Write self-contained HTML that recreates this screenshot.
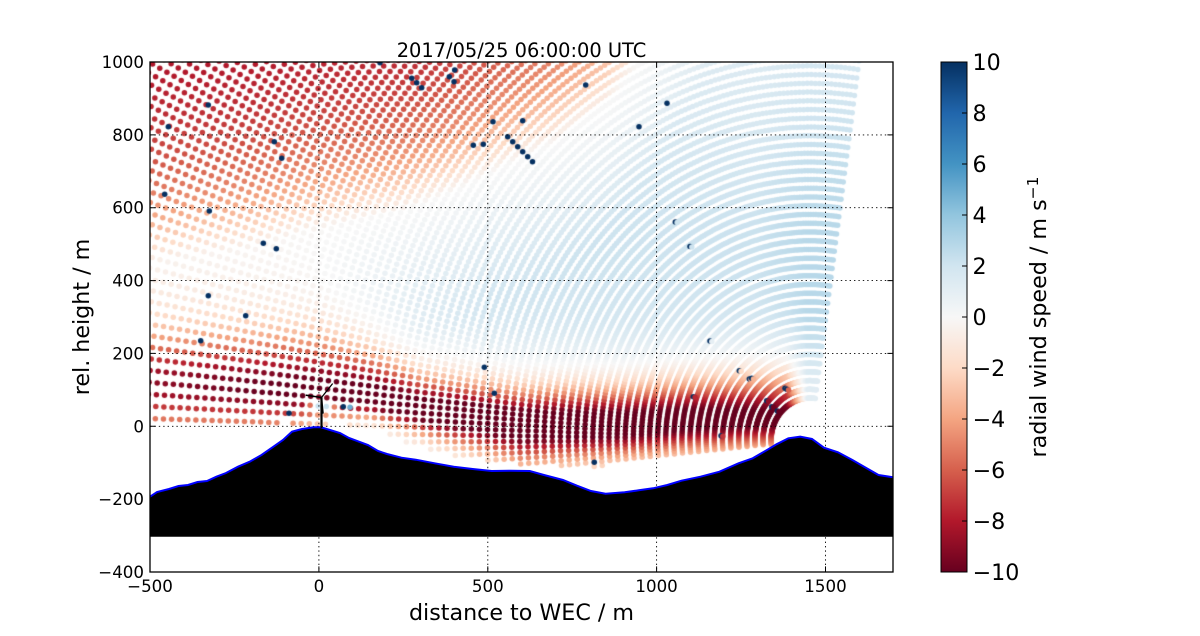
<!DOCTYPE html>
<html><head><meta charset="utf-8">
<style>
html,body{margin:0;padding:0;background:#fff;}
#wrap{position:relative;width:1200px;height:636px;overflow:hidden;background:#fff;}
canvas,svg{position:absolute;left:0;top:0;}
text{font-family:"DejaVu Sans","Liberation Sans",sans-serif;fill:#000;}
</style></head><body>
<div id="wrap">
<canvas id="c" width="1200" height="636"></canvas>
<svg width="1200" height="636" viewBox="0 0 1200 636" xmlns="http://www.w3.org/2000/svg">
<defs>
<linearGradient id="rdbu" x1="0" y1="1" x2="0" y2="0">
<stop offset="0" stop-color="#67001f"/><stop offset="0.1" stop-color="#b2182b"/><stop offset="0.2" stop-color="#d6604d"/><stop offset="0.3" stop-color="#f4a582"/><stop offset="0.4" stop-color="#fddbc7"/><stop offset="0.5" stop-color="#f7f7f7"/><stop offset="0.6" stop-color="#d1e5f0"/><stop offset="0.7" stop-color="#92c5de"/><stop offset="0.8" stop-color="#4393c3"/><stop offset="0.9" stop-color="#2166ac"/><stop offset="1" stop-color="#053061"/>
</linearGradient>
</defs>
<g stroke="#000" stroke-width="0.9" stroke-dasharray="1.4 3" fill="none">
<line x1="150" y1="134.9" x2="893" y2="134.9"/>
<line x1="150" y1="207.7" x2="893" y2="207.7"/>
<line x1="150" y1="280.6" x2="893" y2="280.6"/>
<line x1="150" y1="353.4" x2="893" y2="353.4"/>
<line x1="150" y1="426.3" x2="893" y2="426.3"/>
<line x1="150" y1="499.1" x2="893" y2="499.1"/>
<line x1="318.9" y1="62" x2="318.9" y2="572"/>
<line x1="487.8" y1="62" x2="487.8" y2="572"/>
<line x1="656.6" y1="62" x2="656.6" y2="572"/>
<line x1="825.5" y1="62" x2="825.5" y2="572"/>
</g>
<polygon fill="#000" points="150,496.7 157,492 169,489 178.5,486 188,485 197.5,482 207,481 216.4,476.7 226,473 238,466.7 249.7,461.7 261.5,455 273.4,446.7 283,440 292,431.7 302,429 313.7,427.3 321,427.3 330,430 340,433 349,438 359,441.7 368,445 378,451 387,454 401.5,457.7 415.8,459.7 434.8,463.3 453.7,466.7 472.7,469 491.7,471 510.7,470.7 529.7,471 544,475 563,480 577,485.7 591,491 605.6,493.7 624.6,492.3 638.8,490.3 653,488.3 667.3,485 681.5,480.7 700.5,476.7 719.5,471.7 738.5,463.3 752.7,458.3 767,450 776.5,444.3 788.3,438.3 800.2,436.7 812,439 824,447.7 838,452.3 852.4,460 866.7,468.3 878.5,475 893,477.3 893,536.7 150,536.7"/>
<polyline fill="none" stroke="#0000ff" stroke-width="2" points="150,496.7 157,492 169,489 178.5,486 188,485 197.5,482 207,481 216.4,476.7 226,473 238,466.7 249.7,461.7 261.5,455 273.4,446.7 283,440 292,431.7 302,429 313.7,427.3 321,427.3 330,430 340,433 349,438 359,441.7 368,445 378,451 387,454 401.5,457.7 415.8,459.7 434.8,463.3 453.7,466.7 472.7,469 491.7,471 510.7,470.7 529.7,471 544,475 563,480 577,485.7 591,491 605.6,493.7 624.6,492.3 638.8,490.3 653,488.3 667.3,485 681.5,480.7 700.5,476.7 719.5,471.7 738.5,463.3 752.7,458.3 767,450 776.5,444.3 788.3,438.3 800.2,436.7 812,439 824,447.7 838,452.3 852.4,460 866.7,468.3 878.5,475 893,477.3"/>
<g stroke="#000" fill="none" stroke-linecap="round">
<line x1="321.5" y1="427" x2="321.5" y2="397.5" stroke-width="2.2"/>
<line x1="321.5" y1="397.5" x2="332.3" y2="384" stroke-width="1.3"/>
<line x1="321.5" y1="397.5" x2="306.3" y2="395.2" stroke-width="1.5"/>
<line x1="321.5" y1="397.5" x2="323" y2="413" stroke-width="1.5"/>
</g>
<rect x="150" y="62" width="743" height="510" fill="none" stroke="#000" stroke-width="1.3"/>
<g stroke="#000" stroke-width="1">
<path d="M150 134.9h5.6M150 207.7h5.6M150 280.6h5.6M150 353.4h5.6M150 426.3h5.6M150 499.1h5.6M150 62h5.6M150 572h5.6"/>
<path d="M893 134.9h-5.6M893 207.7h-5.6M893 280.6h-5.6M893 353.4h-5.6M893 426.3h-5.6M893 499.1h-5.6M893 62h-5.6M893 572h-5.6"/>
<path d="M150 572v-5.6M318.9 572v-5.6M487.8 572v-5.6M656.6 572v-5.6M825.5 572v-5.6"/>
<path d="M150 62v5.6M318.9 62v5.6M487.8 62v5.6M656.6 62v5.6M825.5 62v5.6"/>
</g>
<g font-size="16.67" text-anchor="end">
<text x="144" y="68">1000</text>
<text x="144" y="140.9">800</text>
<text x="144" y="213.7">600</text>
<text x="144" y="286.6">400</text>
<text x="144" y="359.4">200</text>
<text x="144" y="432.3">0</text>
<text x="144" y="505.1">−200</text>
<text x="144" y="578">−400</text>
</g>
<g font-size="16.67" text-anchor="middle">
<text x="150" y="592">−500</text>
<text x="318.9" y="592">0</text>
<text x="487.8" y="592">500</text>
<text x="656.6" y="592">1000</text>
<text x="825.5" y="592">1500</text>
</g>
<text x="521.5" y="57" font-size="19.4" text-anchor="middle">2017/05/25 06:00:00 UTC</text>
<text x="521.5" y="620" font-size="22.2" text-anchor="middle">distance to WEC / m</text>
<text x="89" y="317" font-size="22.2" text-anchor="middle" transform="rotate(-90 89 317)">rel. height / m</text>
<rect x="941" y="62" width="26" height="510" fill="url(#rdbu)" stroke="#000" stroke-width="1"/>
<g stroke="#000" stroke-width="1">
<path d="M967 113h-5M967 164h-5M967 215h-5M967 266h-5M967 317h-5M967 368h-5M967 419h-5M967 470h-5M967 521h-5"/>
</g>
<g font-size="22.2">
<text x="972.5" y="70.1">10</text>
<text x="972.5" y="121.1">8</text>
<text x="972.5" y="172.1">6</text>
<text x="972.5" y="223.1">4</text>
<text x="972.5" y="274.1">2</text>
<text x="972.5" y="325.1">0</text>
<text x="972.5" y="376.1">−2</text>
<text x="972.5" y="427.1">−4</text>
<text x="972.5" y="478.1">−6</text>
<text x="972.5" y="529.1">−8</text>
<text x="972.5" y="580.1">−10</text>
</g>
<text x="1046" y="317" font-size="22.2" text-anchor="middle" transform="rotate(-90 1046 317)">radial wind speed / m s<tspan dy="-8" font-size="15.5">−1</tspan></text>
</svg>
</div>
<script>
(function(){
var cv=document.getElementById('c');
var ctx=cv.getContext('2d');
var SX=743/2200, SY=510/1400;
function px(x){return 150+(x+500)*SX;}
function py(y){return 572-(y+400)*SY;}
function ix(X){return (X-150)/SX-500;}
function iy(Y){return (572-Y)/SY-400;}
function clamp(v,a,b){return v<a?a:(v>b?b:v);}
function sm(t){t=clamp(t,0,1);return t*t*(3-2*t);}
function interp(tab,x){
  var n=tab.length;
  if(x<=tab[0][0]) return tab[0];
  if(x>=tab[n-1][0]) return tab[n-1];
  for(var i=0;i<n-1;i++){
    var a=tab[i],b=tab[i+1];
    if(x<=b[0]){
      var t=(x-a[0])/(b[0]-a[0]);var r=[x];
      for(var k=1;k<a.length;k++) r.push(a[k]+(b[k]-a[k])*t);
      return r;
    }
  }
  return tab[n-1];
}
var JT=[
 [-500,120,6.5,120,120,2.5,250,250],
 [-100,100,7.8,130,95,3,250,170],
 [0,95,8,130,70,3,250,110],
 [150,75,9,110,45,2.8,220,80],
 [300,45,10,80,60,2.5,180,100],
 [600,5,10.5,80,90,2.5,200,200],
 [900,5,10,85,75,2.5,200,200],
 [1100,20,9.5,90,75,2.5,200,170],
 [1300,25,9,95,70,2.5,200,160],
 [1500,25,9,95,70,2.5,200,160]];
var BB=[[-500,450],[-200,490],[-50,530],[100,560],[250,590],[400,645],[550,715],[700,780],[850,880],[950,1000],[1100,1250],[1700,2000]];
var AU=[[-500,9],[300,9],[700,8],[1000,7],[1700,7]];
var BT=[[-500,0.3],[0,1.4],[500,2.1],[1000,2.1],[1300,2.2],[1450,2.8],[1700,2.8]];
function val(x,y){
  var j=interp(JT,x);
  var c=j[1], d=y-c, w1, w2;
  if(d>=0){w1=j[3];w2=j[6];}else{w1=j[4];w2=j[7];}
  var jet=j[2]*Math.exp(-(d/w1)*(d/w1))+j[5]*Math.exp(-(d/w2)*(d/w2));
  if(x>1390) jet*=clamp((1450-x)/60,0,1);
  var B=interp(BB,x)[1];
  var up=0;
  if(y>B) up=interp(AU,x)[1]*(1-Math.exp(-(y-B)/230));
  var base=interp(BT,x)[1];
  var bg=base*(0.4+0.6*sm((y-c-50)/250))*clamp((B-y)/350,0,1)*(1-0.35*sm((y-500)/500));
  var wake=12*Math.exp(-Math.pow((x-10)/30,2)-Math.pow((y-55)/15,2));
  return bg-jet-up+wake;
}
var CM=[[103,0,31],[178,24,43],[214,96,77],[244,165,130],[253,219,199],[247,247,247],[209,229,240],[146,197,222],[67,147,195],[33,102,172],[5,48,97]];
function col(v){
  var t=clamp((v+10)/20,0,1)*10;
  var i=Math.min(9,Math.floor(t)), f=t-i;
  var a=CM[i], b=CM[i+1];
  return 'rgb('+Math.round(a[0]+(b[0]-a[0])*f)+','+Math.round(a[1]+(b[1]-a[1])*f)+','+Math.round(a[2]+(b[2]-a[2])*f)+')';
}
var BP=[[140,425.5],[285,425.5],[300,427],[345,427],[373,433],[397,442],[415,448],[430,455],[482,463],[520,467],[568,469],[596,470],[610,466],[625,464],[672,459],[720,453],[767,448],[900,448]];
ctx.save();
ctx.beginPath();ctx.rect(150,62,743,510);ctx.clip();
var R=2.75, LX=1454, LY=-37.6;
var e=-6.5;
while(e<=98.15){
  var er=e*Math.PI/180, dx=-Math.cos(er), dy=Math.sin(er);
  for(var r=115;r<=2600;r+=24){
    var x=LX+dx*r, y=LY+dy*r;
    var X=px(x), Y=py(y);
    if(X<146||X>897||Y<58) continue;
    if(Y>interp(BP,X)[1]-2.7) continue;
    ctx.fillStyle=col(val(x,y));
    ctx.beginPath();ctx.arc(X,Y,R,0,2*Math.PI);ctx.fill();
  }
  e+= (e<25)? Math.min(1.05,1.0-0.012*e) : 0.7;
}
var NV=[[208.3,105],[168.3,126.7],[274.3,141.7],[281.7,158.3],[164.7,194.3],[209.3,211],[263.3,243.3],[276.3,248.8],[380,62.7],[411.7,78.3],[416.7,82.7],[421.7,87.7],[449.3,76.7],[454,81.7],[454.7,70],[493,121.7],[522.7,120.7],[473.3,145.3],[483.3,144.2],[507.7,136.7],[512.7,141.7],[517.7,146.7],[522.7,151.7],[527.7,156.7],[532.5,161.7],[585.7,85],[639,126.7],[667,103.3],[208.3,295.7],[245.7,315.7],[200.7,340.7],[289,413.3],[343.3,406.7],[484.3,367.3],[494.3,393.3],[594.3,462.3]];
ctx.fillStyle='#053061';
for(var i=0;i<NV.length;i++){ctx.beginPath();ctx.arc(NV[i][0],NV[i][1],R,0,2*Math.PI);ctx.fill();}
ctx.fillStyle=col(5);
ctx.beginPath();ctx.arc(350,407.3,R,0,2*Math.PI);ctx.fill();
var CR=[[675.3,222],[690,246.5],[710,341],[739.3,370.7],[749.3,379],[751.7,378.3],[693.3,396.7],[766.7,400.7],[771.7,406.7],[777.3,411],[785,388.3],[786.7,389.3],[721,435.7]];
for(var k=0;k<CR.length;k++){
  var p=CR[k];
  ctx.fillStyle='#053061';
  ctx.beginPath();ctx.arc(p[0],p[1],R,0,2*Math.PI);ctx.fill();
  ctx.fillStyle=col(val(ix(p[0]+1.8),iy(p[1]+0.6)));
  ctx.beginPath();ctx.arc(p[0]+1.8,p[1]+0.6,R,0,2*Math.PI);ctx.fill();
}
ctx.restore();
})();
</script>
</body></html>
